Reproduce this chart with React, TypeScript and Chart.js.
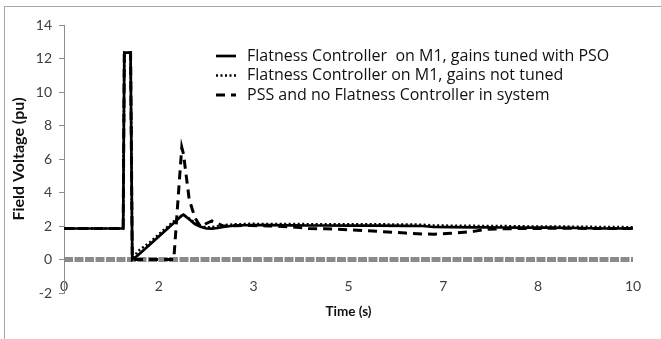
import React, { useEffect, useRef } from 'react';
import { Chart, registerables } from 'chart.js';

Chart.register(...registerables);

// Time samples (s)
const time = [0, 1.04, 1.06, 1.17, 1.2, 1.3, 1.5, 1.7, 1.9, 1.93, 2.0, 2.07, 2.1, 2.2, 2.3, 2.4, 2.5, 2.6, 2.7, 2.8, 3.0, 3.3, 3.6, 4.0, 4.3, 4.6, 5.0, 5.5, 6.0, 6.3, 6.5, 6.8, 7.2, 7.4, 7.7, 8.0, 8.5, 9.0, 9.5, 10];

// Field voltage (pu)
const tunedPSO = [1.85, 1.85, 12.35, 12.35, 0, 0.25, 0.86, 1.48, 2.09, 2.18, 2.4, 2.62, 2.68, 2.4, 2.12, 1.95, 1.85, 1.84, 1.88, 1.95, 2.03, 2.06, 2.05, 2.04, 2.03, 2.03, 2.02, 2.02, 2.01, 2.0, 1.94, 1.93, 1.92, 1.92, 1.91, 1.9, 1.9, 1.88, 1.85, 1.85];
const notTuned = [1.85, 1.85, 12.35, 12.35, 0, 0.5, 1.0, 1.6, 2.2, 2.28, 2.45, 2.62, 2.66, 2.45, 2.18, 2.0, 1.92, 1.93, 1.98, 2.05, 2.1, 2.13, 2.12, 2.12, 2.11, 2.11, 2.1, 2.1, 2.09, 2.08, 2.03, 2.02, 2.01, 2.0, 2.0, 1.98, 1.97, 1.96, 1.94, 1.93];
const pssOnly = [1.85, 1.85, 12.35, 12.35, 0, 0, 0, 0, 0, 0, 3.4, 6.7, 6.3, 3.6, 2.5, 1.95, 2.15, 2.3, 2.15, 2.0, 2.02, 2.03, 2.0, 1.95, 1.85, 1.83, 1.78, 1.68, 1.58, 1.52, 1.51, 1.56, 1.68, 1.8, 1.83, 1.85, 1.86, 1.86, 1.85, 1.85];

// Horizontal axis line drawn at zero (gray, with tick separators)
const axisLineTime = [0, 10];
const axisLineValue = [0, 0];

const seriesLabels = [
  'Flatness Controller  on M1, gains tuned with PSO',
  'Flatness Controller on M1, gains not tuned',
  'PSS and no Flatness Controller in system',
];

const xTickValues = [0, 1.6667, 3.3333, 5, 6.6667, 8.3333, 10];
const yMin = -2;
const yMax = 14;
const yStep = 2;

const FONT = 'Lato, "Open Sans", sans-serif';
const LEGEND_FONT = '"Open Sans", Lato, sans-serif';

const legendPlugin = {
  id: 'insideLegend',
  afterDraw(chart: any) {
    const ctx = chart.ctx;
    const ca = chart.chartArea;
    ctx.save();
    chart.data.datasets.slice(0, 3).forEach((ds: any, i: number) => {
      const y = ca.top + 31 + i * 19.5;
      const x0 = ca.left + 152;
      ctx.strokeStyle = ds.borderColor;
      ctx.lineWidth = ds.borderWidth;
      ctx.setLineDash(ds.borderDash || []);
      ctx.beginPath();
      ctx.moveTo(x0, y);
      ctx.lineTo(x0 + 20, y);
      ctx.stroke();
      ctx.setLineDash([]);
      ctx.fillStyle = '#111';
      ctx.font = '16px ' + LEGEND_FONT;
      ctx.textBaseline = 'middle';
      ctx.textAlign = 'left';
      ctx.fillText(ds.label, x0 + 31, y);
    });
    ctx.restore();
  },
};

const framePlugin = {
  id: 'frame',
  beforeDraw(chart: any) {
    const ctx = chart.ctx;
    ctx.save();
    ctx.strokeStyle = '#a6a6a6';
    ctx.lineWidth = 1;
    ctx.beginPath();
    ctx.moveTo(4.5, chart.height);
    ctx.lineTo(4.5, 6.5);
    ctx.lineTo(chart.width, 6.5);
    ctx.stroke();
    ctx.restore();
  },
};

export default function App() {
  const ref = useRef<HTMLCanvasElement>(null);
  useEffect(() => {
    const mk = (ts: number[], vals: number[]) => ts.map((t, i) => ({ x: t, y: vals[i] }));
    const chart = new Chart(ref.current as HTMLCanvasElement, {
      type: 'line',
      data: {
        datasets: [
          { label: seriesLabels[0], data: mk(time, tunedPSO), borderColor: '#000', borderWidth: 2.7, borderDash: [], pointRadius: 0, tension: 0, fill: false },
          { label: seriesLabels[1], data: mk(time, notTuned), borderColor: '#000', borderWidth: 2.5, borderDash: [2, 2.5], pointRadius: 0, tension: 0, fill: false },
          { label: seriesLabels[2], data: mk(time, pssOnly), borderColor: '#000', borderWidth: 3, borderDash: [9, 6], pointRadius: 0, tension: 0, fill: false },
          { label: 'axis', data: mk(axisLineTime, axisLineValue), borderColor: '#8a8a8a', borderWidth: 5, borderDash: [9, 1.5], borderCapStyle: 'butt', pointRadius: 0, fill: false },
        ],
      },
      options: {
        animation: false,
        responsive: false,
        events: [],
        layout: { padding: { left: 0, right: 28, top: 25, bottom: 46 } },
        plugins: { legend: { display: false }, tooltip: { enabled: false } },
        scales: {
          x: {
            type: 'linear',
            min: 0,
            max: 10,
            position: { y: 0 } as any,
            grid: { display: false },
            border: { display: false },
            afterBuildTicks: (axis: any) => {
              axis.ticks = xTickValues.map((v) => ({ value: v }));
            },
            afterFit: (axis: any) => {
              axis.height = 60;
            },
            ticks: {
              padding: 11,
              maxRotation: 0,
              autoSkip: false,
              color: '#404040',
              font: { family: FONT, size: 14 },
              callback: (v: any) => Number(v).toFixed(0),
            },
            title: {
              display: true,
              text: 'Time (s)',
              color: '#111',
              font: { family: FONT, size: 13.5, weight: 'bold' },
              padding: { top: 0, bottom: 0 },
            },
          },
          y: {
            min: yMin,
            max: yMax,
            ticks: {
              stepSize: yStep,
              padding: 7,
              color: '#404040',
              font: { family: FONT, size: 14 },
            },
            grid: { drawOnChartArea: false, drawTicks: true, tickLength: 5, color: '#8c8c8c' },
            border: { display: true, color: '#8c8c8c', width: 1 },
            afterFit: (axis: any) => {
              axis.width = 64;
            },
            title: {
              display: true,
              text: 'Field Voltage (pu)',
              color: '#111',
              font: { family: FONT, size: 16, weight: 'bold' },
              padding: { top: 9, bottom: 0 },
            },
          },
        },
      },
      plugins: [legendPlugin, framePlugin],
    });
    return () => chart.destroy();
  }, []);
  return (
    <div style={{ position: 'fixed', left: 0, top: 0, width: 661, height: 339, background: '#fff' }}>
      <canvas ref={ref} width={661} height={339} style={{ display: 'block' }} />
    </div>
  );
}
